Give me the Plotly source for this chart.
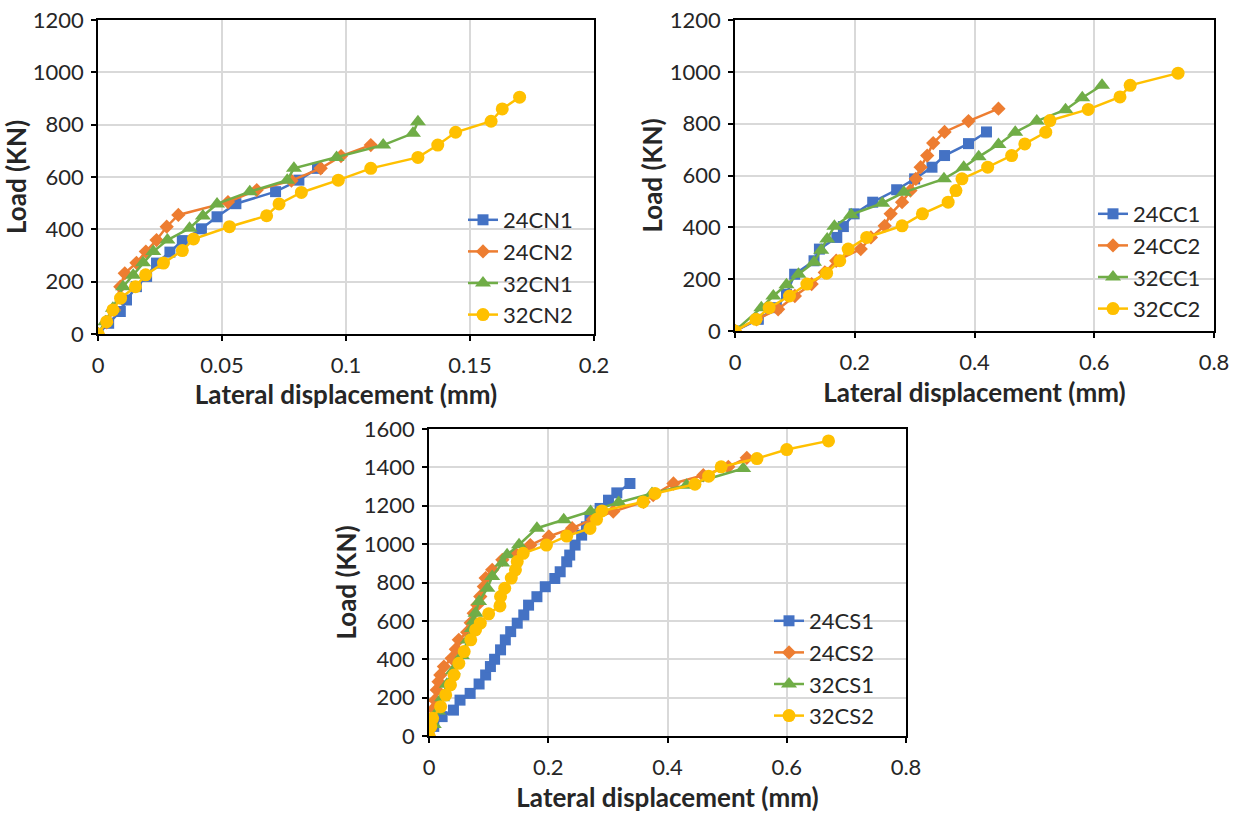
import plotly.graph_objects as go

# ---------------- Panel 1 (CN) ----------------
cn_24cn1_x = [0, 0.0043, 0.009, 0.0115, 0.0155, 0.0196, 0.0236, 0.029, 0.034, 0.0417, 0.048, 0.0556, 0.0716, 0.081, 0.0885]
cn_24cn1_y = [0, 41, 86, 130, 181, 220, 271, 313, 357, 402, 448, 498, 544, 588, 633]
cn_24cn2_x = [0, 0.0035, 0.0065, 0.009, 0.0108, 0.0155, 0.0193, 0.0236, 0.0277, 0.0324, 0.0524, 0.064, 0.078, 0.0898, 0.098, 0.110]
cn_24cn2_y = [0, 45, 92, 181, 232, 272, 315, 359, 410, 455, 504, 550, 586, 633, 680, 722]
cn_32cn1_x = [0, 0.003, 0.006, 0.0101, 0.0142, 0.0182, 0.0223, 0.028, 0.0369, 0.0423, 0.048, 0.0612, 0.0763, 0.079, 0.0962, 0.115, 0.127, 0.129]
cn_32cn1_y = [0, 47, 98, 181, 225, 272, 315, 359, 404, 451, 497, 544, 588, 633, 675, 722, 767, 811]
cn_32cn2_x = [0, 0.0035, 0.006, 0.0091, 0.0151, 0.0192, 0.0264, 0.034, 0.0385, 0.053, 0.068, 0.073, 0.082, 0.0969, 0.110, 0.129, 0.137, 0.1442, 0.1585, 0.163, 0.170]
cn_32cn2_y = [0, 47, 92, 137, 181, 226, 271, 319, 363, 410, 452, 497, 541, 588, 633, 675, 722, 771, 813, 860, 905]

# ---------------- Panel 2 (CC) ----------------
cc_24cc1_x = [0, 0.039, 0.069, 0.086, 0.0996, 0.132, 0.141, 0.170, 0.181, 0.199, 0.230, 0.270, 0.300, 0.329, 0.350, 0.390, 0.420]
cc_24cc1_y = [0, 45, 90, 142, 219, 271, 316, 361, 403, 452, 497, 545, 587, 632, 677, 723, 768]
cc_24cc2_x = [0, 0.036, 0.072, 0.100, 0.128, 0.150, 0.169, 0.210, 0.227, 0.250, 0.260, 0.279, 0.293, 0.302, 0.310, 0.321, 0.331, 0.350, 0.390, 0.440]
cc_24cc2_y = [0, 45, 84, 135, 181, 226, 271, 316, 361, 406, 452, 497, 542, 587, 632, 677, 725, 768, 810, 858]
cc_32cc1_x = [0, 0.044, 0.064, 0.086, 0.106, 0.132, 0.144, 0.154, 0.166, 0.194, 0.246, 0.282, 0.349, 0.382, 0.407, 0.440, 0.468, 0.504, 0.552, 0.580, 0.613]
cc_32cc1_y = [0, 90, 135, 178, 219, 265, 312, 355, 404, 449, 493, 535, 587, 632, 672, 720, 767, 810, 854, 900, 948]
cc_32cc2_x = [0, 0.035, 0.057, 0.091, 0.120, 0.153, 0.175, 0.189, 0.220, 0.279, 0.313, 0.356, 0.369, 0.379, 0.422, 0.462, 0.484, 0.519, 0.526, 0.590, 0.643, 0.660, 0.740]
cc_32cc2_y = [0, 45, 90, 135, 181, 223, 271, 316, 361, 406, 452, 497, 542, 587, 632, 677, 722, 767, 812, 855, 903, 948, 995]

# ---------------- Panel 3 (CS) ----------------
cs_24cs1_x = [0, 0.008, 0.022, 0.041, 0.052, 0.069, 0.084, 0.095, 0.103, 0.110, 0.120, 0.128, 0.137, 0.148, 0.159, 0.167, 0.181, 0.195, 0.211, 0.220, 0.231, 0.236, 0.245, 0.256, 0.264, 0.270, 0.287, 0.301, 0.315, 0.337]
cs_24cs1_y = [0, 50, 101, 135, 187, 222, 271, 318, 362, 400, 449, 501, 544, 588, 631, 682, 726, 778, 821, 856, 908, 943, 995, 1047, 1090, 1142, 1186, 1229, 1267, 1316]
cs_24cs2_x = [0, 0.003, 0.005, 0.007, 0.010, 0.013, 0.016, 0.019, 0.025, 0.038, 0.045, 0.050, 0.064, 0.070, 0.075, 0.081, 0.086, 0.092, 0.095, 0.106, 0.123, 0.145, 0.170, 0.201, 0.240, 0.275, 0.309, 0.360, 0.376, 0.410, 0.460, 0.502, 0.533]
cs_24cs2_y = [0, 45, 95, 140, 187, 240, 283, 318, 362, 405, 452, 501, 541, 590, 640, 683, 727, 779, 823, 866, 918, 950, 995, 1040, 1083, 1130, 1170, 1220, 1255, 1316, 1359, 1403, 1450]
cs_32cs1_x = [0, 0.008, 0.015, 0.022, 0.030, 0.040, 0.055, 0.065, 0.072, 0.075, 0.078, 0.084, 0.098, 0.106, 0.123, 0.131, 0.151, 0.181, 0.226, 0.271, 0.318, 0.374, 0.432, 0.527]
cs_32cs1_y = [0, 60, 130, 200, 270, 340, 420, 500, 560, 600, 640, 701, 770, 831, 901, 944, 997, 1083, 1127, 1170, 1217, 1264, 1307, 1394]
cs_32cs2_x = [0, 0.003, 0.006, 0.0195, 0.028, 0.036, 0.042, 0.050, 0.059, 0.070, 0.078, 0.086, 0.100, 0.119, 0.120, 0.127, 0.138, 0.145, 0.148, 0.158, 0.197, 0.231, 0.270, 0.281, 0.290, 0.359, 0.379, 0.446, 0.469, 0.490, 0.550, 0.600, 0.670]
cs_32cs2_y = [0, 49, 92, 153, 214, 266, 318, 379, 440, 501, 553, 588, 637, 678, 727, 770, 823, 866, 909, 952, 995, 1042, 1082, 1129, 1173, 1220, 1264, 1312, 1354, 1403, 1446, 1493, 1538]

COLORS = ["#4472C4", "#ED7D31", "#70AD47", "#FFC000"]
SYMBOLS = ["square", "diamond", "triangle-up", "circle"]
SIZES = [11, 11, 14, 13]
FONT = "Lato, 'Open Sans', sans-serif"
TXT = "#262626"

panels = [
    (["24CN1", "24CN2", "32CN1", "32CN2"],
     [(cn_24cn1_x, cn_24cn1_y), (cn_24cn2_x, cn_24cn2_y), (cn_32cn1_x, cn_32cn1_y), (cn_32cn2_x, cn_32cn2_y)]),
    (["24CC1", "24CC2", "32CC1", "32CC2"],
     [(cc_24cc1_x, cc_24cc1_y), (cc_24cc2_x, cc_24cc2_y), (cc_32cc1_x, cc_32cc1_y), (cc_32cc2_x, cc_32cc2_y)]),
    (["24CS1", "24CS2", "32CS1", "32CS2"],
     [(cs_24cs1_x, cs_24cs1_y), (cs_24cs2_x, cs_24cs2_y), (cs_32cs1_x, cs_32cs1_y), (cs_32cs2_x, cs_32cs2_y)]),
]

fig = go.Figure()
axis_ids = ["", "2", "3"]
legend_ids = ["legend", "legend2", "legend3"]
for p, (names, series) in enumerate(panels):
    for k, (name, (xs, ys)) in enumerate(zip(names, series)):
        fig.add_trace(go.Scatter(
            x=xs, y=ys, name=name, mode="lines+markers",
            line=dict(color=COLORS[k], width=2.5),
            marker=dict(symbol=SYMBOLS[k], size=SIZES[k], color=COLORS[k]),
            xaxis="x" + axis_ids[p], yaxis="y" + axis_ids[p],
            legend=legend_ids[p],
        ))

W, H = 1243, 816
def dom_x(a, b):
    return [a / W, b / W]
def dom_y(top, bottom):
    return [(H - bottom) / H, (H - top) / H]

common_axis = dict(
    showline=True, linecolor="black", linewidth=1.5, mirror=True,
    ticks="outside", ticklen=5, tickcolor="black", tickwidth=1.5,
    showgrid=True, gridcolor="#D9D9D9", gridwidth=1.5,
    zeroline=False, automargin=False,
    tickfont=dict(family=FONT, size=22, color=TXT),
)
TFONT = dict(family=FONT, size=26, color=TXT)
def xtitle(so):
    return dict(text="<b>Lateral displacement (mm)</b>", font=TFONT, standoff=so)
ytitle = dict(text="<b>Load (KN)</b>", font=TFONT, standoff=0)

layout = dict(
    width=W, height=H, autosize=False,
    margin=dict(l=0, r=0, t=0, b=0, autoexpand=False),
    paper_bgcolor="white", plot_bgcolor="white",
    font=dict(family=FONT, size=22, color=TXT),
)
xa = dict(common_axis, ticklabelstandoff=6)
ya = dict(common_axis, ticklabelstandoff=3)
# panel 1
layout["xaxis"] = dict(xa, domain=dom_x(98, 594), range=[0, 0.2], dtick=0.05, anchor="y", title=xtitle(5))
layout["yaxis"] = dict(ya, domain=dom_y(20, 334), range=[0, 1200], dtick=200, anchor="x", title=ytitle)
# panel 2
layout["xaxis2"] = dict(xa, domain=dom_x(735, 1214), range=[0, 0.8], dtick=0.2, anchor="y2", title=xtitle(10))
layout["yaxis2"] = dict(ya, domain=dom_y(20, 331), range=[0, 1200], dtick=200, anchor="x2", title=ytitle)
# panel 3
layout["xaxis3"] = dict(xa, domain=dom_x(429, 906), range=[0, 0.8], dtick=0.2, anchor="y3", title=xtitle(10))
layout["yaxis3"] = dict(ya, domain=dom_y(429, 736), range=[0, 1600], dtick=200, anchor="x3", title=ytitle)

leg_common = dict(bgcolor="rgba(0,0,0,0)", borderwidth=0, font=dict(family=FONT, size=22, color=TXT),
                  xanchor="left", yanchor="top", traceorder="normal")
layout["legend"] = dict(leg_common, x=463 / W, y=(H - 199) / H)
layout["legend2"] = dict(leg_common, x=1093 / W, y=(H - 193) / H)
layout["legend3"] = dict(leg_common, x=769 / W, y=(H - 600) / H)

fig.update_layout(**layout)
fig.write_html("out.html", config={"displayModeBar": False},
               post_script="document.body.style.margin='0px';")
